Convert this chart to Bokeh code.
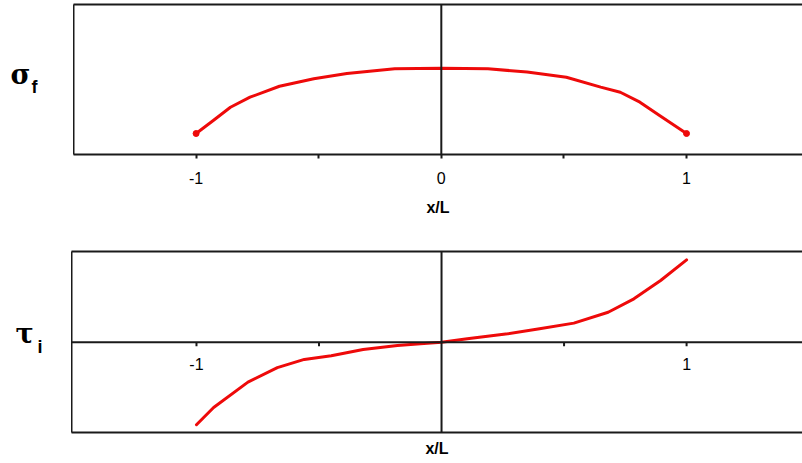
from bokeh.plotting import figure
from bokeh.models import Span, Label, LabelSet, ColumnDataSource, FixedTicker, LinearAxis, Range1d
from bokeh.layouts import column, row
from bokeh.core.properties import value
from bokeh.embed import file_html
from bokeh.resources import INLINE

# ---- data ----
top_x = [-1.0, -0.93, -0.86, -0.78, -0.66, -0.52, -0.385, -0.19, 0.0, 0.19, 0.35, 0.51, 0.65, 0.73, 0.81, 0.89, 1.0]
top_y = [0.14, 0.227, 0.315, 0.382, 0.455, 0.505, 0.54, 0.571, 0.575, 0.571, 0.55, 0.515, 0.449, 0.415, 0.349, 0.26, 0.14]

bot_x = [-1.0, -0.93, -0.79, -0.67, -0.56, -0.45, -0.32, -0.18, -0.086, 0.0, 0.105, 0.27, 0.40, 0.54, 0.68, 0.785, 0.894, 1.0]
bot_y = [-0.91, -0.72, -0.44, -0.28, -0.19, -0.15, -0.08, -0.036, -0.018, 0.0, 0.037, 0.092, 0.147, 0.21, 0.33, 0.478, 0.68, 0.908]

major_ticks = [-1, 0, 1]
minor_ticks = [-0.5, 0.5]
bot_tick_pos = [-1, -0.5, 0.5, 1]
bot_label_pos = [-1, 1]
bot_label_txt = ["-1", "1"]

RED = "#ee0a0a"
AX = "#1a1a1a"
FONT = "Liberation Sans"


def frame_axis(p, side, label=None):
    ax = LinearAxis(ticker=FixedTicker(ticks=[]), major_tick_out=0, major_tick_in=0,
                    minor_tick_out=0, minor_tick_in=0, major_label_standoff=0,
                    major_label_text_font_size="0px", axis_line_width=2, axis_line_color=AX)
    if label:
        ax.axis_label = label
        ax.axis_label_text_font = FONT
        ax.axis_label_text_font_style = "bold"
        ax.axis_label_text_font_size = "16px"
        ax.axis_label_text_color = "black"
        ax.axis_label_standoff = 7
    p.add_layout(ax, side)


def label_fig(w, h, top, bottom, y0, parts):
    # frame spans page rows y0+top .. y0+h-bottom; data y = page y
    lf = figure(width=w, height=h, x_range=Range1d(0, w),
                y_range=Range1d(y0 + h - bottom, y0 + top),
                x_axis_type=None, y_axis_type=None, output_backend="svg", toolbar_location=None,
                min_border_left=0, min_border_right=0, min_border_top=top, min_border_bottom=bottom,
                outline_line_color=None, background_fill_color="white",
                border_fill_color="white")
    for txt, x, y, fnt, size in parts:
        lf.add_layout(Label(x=x, y=y, text=txt, text_font=fnt, text_font_style="bold",
                            text_font_size=size, text_baseline="alphabetic", text_color="black"))
    return lf


# ---- top panel ----
p1 = figure(width=729, height=236, x_range=Range1d(-1.5, 1.473), y_range=Range1d(0, 1.0),
            x_axis_type=None, y_axis_type=None, output_backend="svg", toolbar_location=None,
            min_border_left=0, min_border_right=0, min_border_top=4, min_border_bottom=82,
            background_fill_color="white", border_fill_color="white", outline_line_color=None)
xa = LinearAxis(ticker=FixedTicker(ticks=major_ticks, minor_ticks=minor_ticks),
                major_label_overrides={-1: "-1"},
                axis_line_width=2, axis_line_color=AX,
                major_tick_out=4, major_tick_in=0, minor_tick_out=4, minor_tick_in=0,
                major_tick_line_width=2, minor_tick_line_width=2,
                major_tick_line_color=AX, minor_tick_line_color=AX,
                major_label_text_font=FONT, major_label_text_font_size="16px",
                major_label_text_color="black", major_label_standoff=13,
                axis_label="x/L", axis_label_text_font=FONT, axis_label_text_font_style="bold",
                axis_label_text_font_size="16px", axis_label_text_color="black",
                axis_label_standoff=12)
p1.add_layout(xa, "below")
frame_axis(p1, "left")
frame_axis(p1, "above")
p1.add_layout(Span(location=0, dimension="height", line_color=AX, line_width=2))
p1.line(top_x, top_y, color=RED, line_width=3, line_join="round", line_cap="round")
p1.scatter([top_x[0], top_x[-1]], [top_y[0], top_y[-1]], size=6, color=RED)

lab1 = label_fig(73, 236, 4, 82, 0, [("σ", 10, 74, "DejaVu Serif", "27px"),
                                     ("f", 31, 86, FONT, "18px")])

# ---- bottom panel ----
p2 = figure(width=731, height=227, x_range=Range1d(-1.51, 1.473), y_range=Range1d(-0.996, 1.0),
            x_axis_type=None, y_axis_type=None, output_backend="svg", toolbar_location=None,
            min_border_left=0, min_border_right=0, min_border_top=15, min_border_bottom=31,
            background_fill_color="white", border_fill_color="white", outline_line_color=None)
frame_axis(p2, "left")
frame_axis(p2, "above")
frame_axis(p2, "below", label="x/L")
p2.add_layout(Span(location=0, dimension="height", line_color=AX, line_width=2))
p2.add_layout(Span(location=0, dimension="width", line_color=AX, line_width=2))
p2.segment(x0=bot_tick_pos, y0=[0] * len(bot_tick_pos), x1=bot_tick_pos,
           y1=[-0.045] * len(bot_tick_pos), line_color=AX, line_width=2)
src = ColumnDataSource(dict(x=bot_label_pos, y=[0] * len(bot_label_pos), t=bot_label_txt))
p2.add_layout(LabelSet(x="x", y="y", text="t", source=src, y_offset=-28, text_align="center",
                       text_baseline="alphabetic", text_font=value(FONT),
                       text_font_size=value("16px"), text_color="black"))
p2.line(bot_x, bot_y, color=RED, line_width=3, line_join="round", line_cap="round")

lab2 = label_fig(71, 227, 15, 31, 236, [("τ", 15, 333, "DejaVu Serif", "27px"),
                                        ("i", 37, 346, FONT, "18px")])

layout = column(row(lab1, p1), row(lab2, p2))
open("out.html", "w").write(file_html(layout, INLINE))
